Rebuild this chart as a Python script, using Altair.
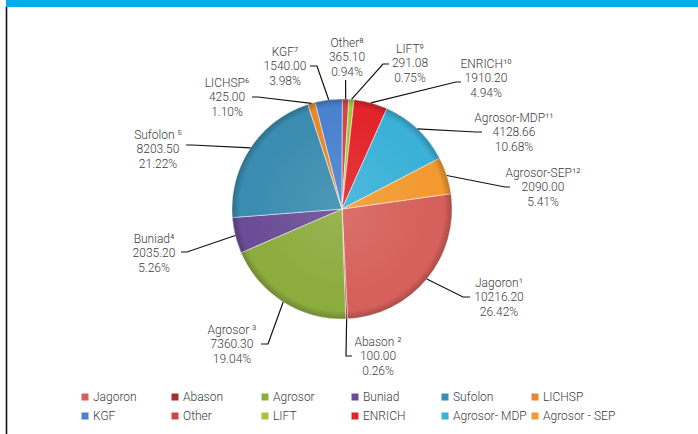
import math
import altair as alt
import pandas as pd

# ---------------- data ----------------
categories = ["Jagoron", "Abason", "Agrosor", "Buniad", "Sufolon", "LICHSP",
              "KGF", "Other", "LIFT", "ENRICH", "Agrosor-MDP", "Agrosor-SEP"]
legend_names = ["Jagoron", "Abason", "Agrosor", "Buniad", "Sufolon", "LICHSP",
                "KGF", "Other", "LIFT", "ENRICH", "Agrosor- MDP", "Agrosor - SEP"]
label_names = ["Jagoron¹", "Abason ²", "Agrosor ³", "Buniad⁴", "Sufolon ⁵", "LICHSP⁶",
               "KGF⁷", "Other⁸", "LIFT⁹", "ENRICH¹⁰", "Agrosor-MDP¹¹", "Agrosor-SEP¹²"]
values = [10216.20, 100.00, 7360.30, 2035.20, 8203.50, 425.00,
          1540.00, 365.10, 291.08, 1910.20, 4128.66, 2090.00]
percents = [26.42, 0.26, 19.04, 5.26, 21.22, 1.10,
            3.98, 0.94, 0.75, 4.94, 10.68, 5.41]

# ---------------- style / layout ----------------
colors = ["#d6605b", "#a3302f", "#8cac3e", "#6b4c96", "#3a8db0", "#e8872b",
          "#4a82cf", "#c9484a", "#a3c63d", "#e3242b", "#3bb1d8", "#f29a30"]
W, H = 698, 434
CX, CY, R = 342, 209, 110
START_DEG = 82
FONT = "Roboto"
TXT = "#3c3c3c"
LH = 14.5

# label block centre, offset from pie centre
label_off = [(157, 88), (36, 147), (-110, 135), (-188, 44), (-184, -60), (-115, -112),
             (-57, -143), (5, -152), (68, -146), (144, -131), (172, -77), (201, -22)]
# leader elbow and end, offset from pie centre
leader_elbow = [(121, 88), (4, 147), (-74, 135), (-155, 43), (-150, -64), (-84, -112),
                (-25, -143), (3.6, -129), (41, -145), (114, -127), (134, -77), (163, -22)]
leader_end = [(128, 88), (10, 147), (-81, 135), (-161, 43), (-156, -64), (-90, -112),
              (-32, -143), (3.6, -129), (47, -145), (119, -127), (140, -77), (168, -22)]

# ---------------- tables ----------------
total = sum(values)
pie_df = pd.DataFrame({"idx": range(len(values)), "legend": legend_names, "value": values})

mids = []
acc = 0.0
for v in values:
    mids.append(START_DEG + (acc + v / 2) / total * 360.0)
    acc += v

lines_rows = []
text_rows = []
for i, cat in enumerate(categories):
    a = math.radians(mids[i])
    sx, sy = CX + R * math.sin(a), CY - R * math.cos(a)
    pts = [(sx, sy),
           (CX + leader_elbow[i][0], CY + leader_elbow[i][1]),
           (CX + leader_end[i][0], CY + leader_end[i][1])]
    for j, (px, py) in enumerate(pts):
        lines_rows.append({"key": cat, "seq": j, "px": px, "py": py})
    text_rows.append({
        "key": cat,
        "px": CX + label_off[i][0],
        "py": CY + label_off[i][1],
        "label": f"{label_names[i]}\n{values[i]:.2f}\n{percents[i]:.2f}%",
    })
lines_df = pd.DataFrame(lines_rows)
text_df = pd.DataFrame(text_rows)
one = pd.DataFrame({"k": [0]})

a0 = math.radians(START_DEG)

pie = alt.Chart(pie_df).mark_arc(
    outerRadius=R, stroke="#ffffff", strokeWidth=0.7, strokeOpacity=0.7
).encode(
    theta=alt.Theta("value:Q", stack=True,
                    scale=alt.Scale(range=[a0, a0 + 2 * math.pi])),
    color=alt.Color(
        "legend:N",
        sort=legend_names,
        scale=alt.Scale(domain=legend_names, range=colors),
        legend=alt.Legend(
            title=None, orient="none", legendX=79, legendY=391,
            direction="horizontal", columns=6, symbolType="square",
            symbolSize=49, symbolStrokeWidth=0, labelFont=FONT,
            labelFontSize=12, labelFontWeight=300, labelColor=TXT, labelOffset=2,
            columnPadding=2, rowPadding=7, padding=0, gridAlign="all",
        ),
    ),
    order=alt.Order("idx:Q", sort="ascending"),
    x=alt.value(CX),
    y=alt.value(CY),
)

shade = alt.Chart(one).mark_arc(
    outerRadius=R, theta=0, theta2=2 * math.pi,
    fill=alt.RadialGradient(
        gradient="radial", x1=0.5, y1=0.5, r1=0, x2=0.5, y2=0.5, r2=0.5,
        stops=[alt.GradientStop(offset=0, color="rgba(255,255,255,0.10)"),
               alt.GradientStop(offset=0.82, color="rgba(255,255,255,0)"),
               alt.GradientStop(offset=0.93, color="rgba(0,0,0,0)"),
               alt.GradientStop(offset=1, color="rgba(0,0,0,0.22)")],
    ),
).encode(x=alt.value(CX), y=alt.value(CY))

leaders = alt.Chart(lines_df).mark_line(color="#111111", strokeWidth=1.2).encode(
    x=alt.X("px:Q", scale=None, axis=None),
    y=alt.Y("py:Q", scale=None, axis=None),
    detail="key:N",
    order="seq:Q",
)

labels = alt.Chart(text_df).mark_text(
    font=FONT, fontSize=12, fontWeight=300, color=TXT, align="center",
    baseline="middle", lineBreak="\n", lineHeight=LH, dy=-LH,
).encode(
    x=alt.X("px:Q", scale=None, axis=None),
    y=alt.Y("py:Q", scale=None, axis=None),
    text="label:N",
)

top_bar = alt.Chart(one).mark_rect(color="#00aeef").encode(
    x=alt.value(6), x2=alt.value(W), y=alt.value(0), y2=alt.value(7)
)
left_line = alt.Chart(one).mark_rule(color="#111111", strokeWidth=1.6).encode(
    x=alt.value(6.5), y=alt.value(7), y2=alt.value(H)
)

chart = alt.layer(top_bar, left_line, pie, shade, leaders, labels).properties(
    width=W, height=H, padding=0, autosize=alt.AutoSizeParams(type="none"),
    background="#ffffff",
).configure_view(stroke=None)

chart.save("out.html", embed_options={"renderer": "svg", "actions": False})
